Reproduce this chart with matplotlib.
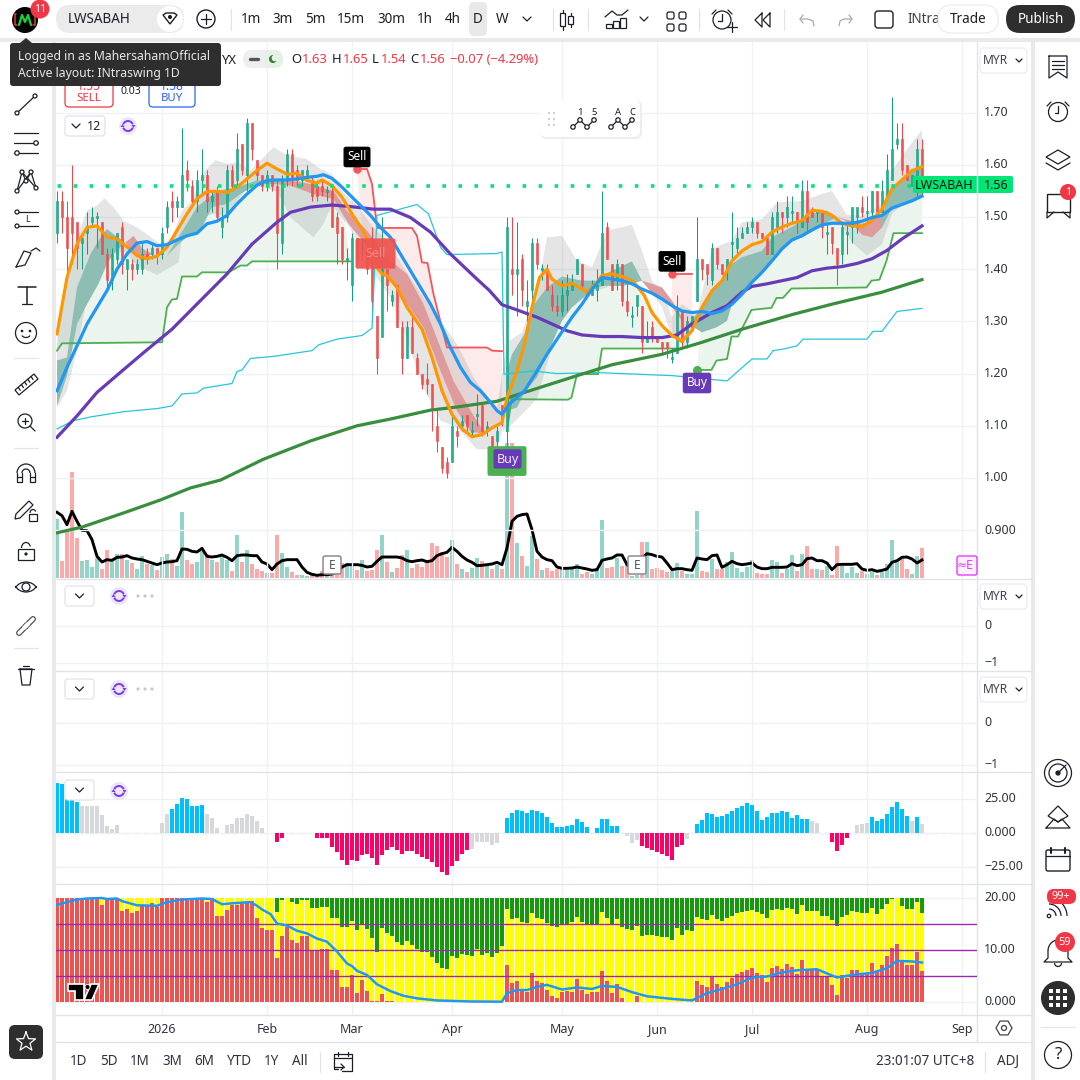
import numpy as np
import matplotlib
matplotlib.use("Agg")
import matplotlib.pyplot as plt
from matplotlib.patches import Rectangle, FancyBboxPatch, Circle, Polygon, Arc
from matplotlib.transforms import ScaledTranslation

plt.rcParams['font.family'] = ['Noto Sans', 'DejaVu Sans']

# ---------- DATA (prices in MYR) ----------
opens = [1.47,1.53,1.50,1.50,1.49,1.45,1.47,1.49,1.50,1.49,
 1.43,1.38,1.42,1.48,1.40,1.41,1.40,1.40,1.43,1.43,
 1.44,1.43,1.48,1.53,1.52,1.52,1.59,1.56,1.53,1.57,
 1.58,1.53,1.55,1.48,1.50,1.59,1.57,1.64,1.58,1.68,
 1.61,1.58,1.56,1.58,1.56,1.45,1.57,1.62,1.59,1.57,
 1.58,1.57,1.56,1.56,1.55,1.55,1.50,1.48,1.42,1.37,
 1.46,1.44,1.44,1.46,1.31,1.27,1.40,1.34,1.37,1.29,
 1.23,1.29,1.23,1.20,1.19,1.18,1.10,1.06,1.03,1.03,
 1.09,1.10,1.12,1.09,1.12,1.14,1.09,1.08,1.07,1.14,
 1.09,1.40,1.39,1.42,1.33,1.36,1.45,1.40,1.40,1.35,
 1.33,1.32,1.35,1.36,1.39,1.41,1.36,1.35,1.36,1.37,
 1.48,1.41,1.38,1.41,1.34,1.31,1.33,1.33,1.26,1.29,
 1.27,1.26,1.26,1.23,1.24,1.32,1.26,1.29,1.34,1.42,
 1.41,1.38,1.44,1.41,1.40,1.45,1.44,1.46,1.47,1.48,
 1.49,1.47,1.46,1.43,1.48,1.51,1.50,1.51,1.51,1.48,
 1.55,1.51,1.51,1.51,1.47,1.48,1.44,1.43,1.47,1.48,
 1.50,1.52,1.51,1.51,1.55,1.51,1.54,1.57,1.64,1.65,
 1.60,1.56,1.56,1.63]
highs = [1.55,1.55,1.53,1.60,1.49,1.47,1.51,1.52,1.51,1.49,
 1.44,1.44,1.47,1.49,1.42,1.42,1.42,1.45,1.44,1.45,
 1.44,1.48,1.53,1.55,1.54,1.67,1.61,1.57,1.59,1.63,
 1.59,1.55,1.56,1.52,1.60,1.60,1.66,1.64,1.69,1.68,
 1.61,1.58,1.59,1.58,1.57,1.58,1.63,1.63,1.60,1.59,
 1.60,1.58,1.57,1.57,1.56,1.56,1.51,1.48,1.44,1.47,
 1.46,1.46,1.45,1.48,1.31,1.50,1.40,1.36,1.37,1.30,
 1.30,1.31,1.24,1.20,1.22,1.18,1.13,1.06,1.04,1.12,
 1.10,1.12,1.12,1.11,1.16,1.14,1.11,1.08,1.10,1.14,
 1.50,1.50,1.49,1.43,1.38,1.46,1.46,1.41,1.41,1.37,
 1.35,1.38,1.39,1.39,1.42,1.41,1.36,1.38,1.40,1.55,
 1.49,1.41,1.42,1.41,1.38,1.33,1.35,1.33,1.30,1.30,
 1.27,1.26,1.26,1.25,1.35,1.32,1.31,1.31,1.50,1.42,
 1.41,1.45,1.44,1.41,1.42,1.51,1.48,1.48,1.49,1.50,
 1.49,1.47,1.46,1.51,1.53,1.51,1.54,1.54,1.51,1.57,
 1.57,1.52,1.51,1.51,1.49,1.48,1.44,1.49,1.49,1.52,
 1.52,1.54,1.54,1.55,1.55,1.57,1.62,1.73,1.68,1.68,
 1.60,1.58,1.65,1.65]
lows = [1.45,1.47,1.38,1.41,1.40,1.40,1.43,1.48,1.44,1.43,
 1.36,1.36,1.41,1.39,1.36,1.38,1.39,1.39,1.41,1.42,
 1.41,1.42,1.47,1.49,1.50,1.52,1.55,1.52,1.51,1.54,
 1.51,1.51,1.49,1.46,1.49,1.55,1.56,1.58,1.55,1.61,
 1.57,1.55,1.55,1.55,1.40,1.43,1.56,1.56,1.56,1.56,
 1.57,1.53,1.53,1.54,1.53,1.48,1.41,1.41,1.38,1.34,
 1.41,1.42,1.39,1.31,1.20,1.27,1.32,1.33,1.29,1.20,
 1.23,1.24,1.20,1.17,1.16,1.09,1.05,1.01,1.00,1.03,
 1.06,1.09,1.09,1.08,1.10,1.08,1.08,1.05,1.06,1.10,
 1.05,1.35,1.31,1.33,1.30,1.34,1.40,1.38,1.36,1.32,
 1.31,1.31,1.32,1.36,1.39,1.36,1.35,1.35,1.34,1.37,
 1.42,1.36,1.36,1.33,1.31,1.29,1.31,1.24,1.26,1.26,
 1.26,1.24,1.23,1.22,1.24,1.25,1.25,1.29,1.34,1.38,
 1.37,1.37,1.40,1.39,1.38,1.42,1.43,1.46,1.47,1.47,
 1.46,1.46,1.43,1.43,1.47,1.47,1.48,1.49,1.47,1.48,
 1.47,1.50,1.49,1.46,1.43,1.43,1.37,1.41,1.43,1.45,
 1.47,1.50,1.49,1.50,1.50,1.51,1.54,1.57,1.63,1.58,
 1.57,1.56,1.54,1.54]
closes = [1.53,1.50,1.44,1.47,1.44,1.46,1.48,1.50,1.50,1.43,
 1.38,1.43,1.47,1.41,1.42,1.40,1.41,1.43,1.42,1.44,
 1.43,1.47,1.52,1.52,1.53,1.58,1.57,1.53,1.57,1.58,
 1.53,1.54,1.50,1.50,1.59,1.56,1.63,1.59,1.68,1.63,
 1.58,1.56,1.58,1.56,1.47,1.57,1.62,1.57,1.57,1.59,
 1.59,1.54,1.54,1.55,1.55,1.48,1.47,1.42,1.42,1.46,
 1.42,1.44,1.40,1.34,1.23,1.40,1.37,1.35,1.29,1.23,
 1.29,1.24,1.20,1.18,1.18,1.13,1.07,1.02,1.01,1.10,
 1.08,1.11,1.10,1.09,1.12,1.09,1.10,1.06,1.09,1.11,
 1.48,1.39,1.40,1.36,1.34,1.45,1.41,1.40,1.36,1.33,
 1.32,1.35,1.36,1.37,1.42,1.37,1.35,1.37,1.37,1.47,
 1.42,1.36,1.41,1.34,1.32,1.31,1.35,1.26,1.27,1.27,
 1.26,1.25,1.25,1.23,1.32,1.26,1.30,1.31,1.42,1.40,
 1.39,1.44,1.41,1.39,1.42,1.45,1.46,1.47,1.48,1.49,
 1.47,1.46,1.43,1.50,1.51,1.50,1.52,1.51,1.49,1.55,
 1.49,1.50,1.51,1.48,1.47,1.45,1.41,1.48,1.47,1.52,
 1.52,1.51,1.51,1.55,1.51,1.55,1.59,1.63,1.65,1.59,
 1.57,1.58,1.63,1.56]
volume = [177,52,145,318,120,50,55,33,60,28,
 85,55,73,73,55,45,28,67,43,40,
 25,63,73,57,37,198,55,43,49,80,
 73,55,49,65,55,22,130,49,85,43,
 28,22,16,16,130,76,34,19,10,10,
 7,10,10,22,15,22,35,45,45,45,
 25,55,20,25,85,130,49,19,31,70,
 85,31,43,34,49,106,97,79,64,115,
 43,28,19,31,61,52,37,28,40,28,
 405,405,106,67,37,127,58,25,31,22,
 28,28,25,28,43,13,19,13,31,175,
 31,34,61,37,40,7,10,109,109,28,
 31,25,19,22,46,22,13,13,202,22,
 19,58,28,28,49,79,31,19,34,55,
 16,13,13,55,49,16,28,70,22,73,
 97,28,28,25,37,10,97,37,16,34,
 16,22,13,19,10,19,43,115,52,58,
 28,13,67,91]
volume_line = [197,187,160,200,170,143,142,115,65,48,
 55,53,62,63,67,60,57,55,50,45,
 40,45,48,49,52,87,86,80,78,89,
 65,63,65,69,62,52,67,69,69,67,
 67,48,42,25,42,52,55,55,55,33,
 17,11,8,10,10,12,18,33,40,40,
 40,38,33,35,50,63,63,63,63,60,
 52,49,52,54,49,52,67,73,77,92,
 80,65,54,47,37,38,40,42,47,40,
 90,170,185,190,192,145,80,63,55,52,
 33,29,29,30,33,30,27,23,25,53,
 57,60,69,69,40,30,40,60,73,70,
 65,63,45,25,28,28,25,23,60,57,
 55,67,69,32,40,50,43,40,42,45,
 33,28,28,32,32,32,33,43,37,40,
 58,60,52,52,45,25,40,41,41,41,
 43,27,23,25,20,23,27,47,52,62,
 63,57,45,54]

orange_i = [0,2,4,6,8,10,12,14,16,18,20,22,24,26,28,30,32,34,36,38,40,42,44,46,48,50,52,53,55,57,59,61,62,63,65,66,68,70,73,75,77,79,81,83,85,87,89,90,92,93.5,95,96.5,98,99,101,103,105,106,108,109,111,113,115,116,117.5,119,121,123,125,127,129,131,133,135,137,139,141,143,145,147,149,151,153,155,157,159,161,163,165,167,169,171,173]
orange_p = [1.276,1.384,1.448,1.48,1.483,1.462,1.458,1.443,1.426,1.42,1.425,1.442,1.474,1.506,1.535,1.549,1.549,1.547,1.557,1.573,1.589,1.603,1.592,1.582,1.584,1.57,1.565,1.571,1.56,1.538,1.506,1.477,1.458,1.416,1.391,1.388,1.365,1.327,1.285,1.231,1.167,1.122,1.094,1.079,1.083,1.096,1.106,1.154,1.205,1.257,1.327,1.384,1.40,1.381,1.368,1.373,1.362,1.356,1.375,1.388,1.391,1.386,1.378,1.368,1.349,1.317,1.292,1.273,1.262,1.282,1.327,1.359,1.378,1.416,1.435,1.447,1.453,1.471,1.481,1.488,1.493,1.513,1.511,1.503,1.488,1.483,1.482,1.493,1.515,1.554,1.571,1.589,1.596]
blue_i = [0,2,4,6,8,10,12,14,16,18,20,22,24,26,28,30,32,34,36,38,40,42,44,46,48,50,52,53.3,55,56.7,58.7,60.7,62.7,64.7,66.7,68.7,70.7,72.7,74.7,76.7,78.7,80.7,82.7,84.7,86.7,88,89,90.5,93.5,96,98,100.5,103,105,107,109,111,113,115,117,119,121,123,125,127,129,131,133,135,137,139,141,143,145,147,149,151,153,155,157,159,161,163,165,167,169,171,173]
blue_p = [1.167,1.212,1.253,1.295,1.327,1.359,1.40,1.429,1.45,1.453,1.445,1.447,1.456,1.464,1.469,1.487,1.492,1.503,1.525,1.544,1.561,1.57,1.571,1.571,1.573,1.576,1.578,1.581,1.574,1.56,1.541,1.522,1.503,1.48,1.461,1.429,1.397,1.365,1.333,1.295,1.25,1.212,1.183,1.167,1.145,1.129,1.122,1.142,1.167,1.205,1.237,1.273,1.308,1.333,1.362,1.384,1.381,1.378,1.372,1.362,1.354,1.343,1.33,1.32,1.317,1.319,1.315,1.32,1.333,1.352,1.375,1.394,1.416,1.439,1.456,1.464,1.475,1.485,1.488,1.488,1.488,1.492,1.499,1.503,1.517,1.524,1.531,1.54]
purple_i = [0,4,8,13,17.3,23,28.7,34,39,44,46.7,50.7,55,58.7,63.3,66.7,70.7,74.7,78.7,84,86.5,89,92,96,99,102,105,109,113,117,121,124,127,131,134,137,139,142,145,148,151,154,157,160,163,166,169,173]
purple_p = [1.078,1.119,1.164,1.205,1.24,1.285,1.34,1.391,1.448,1.49,1.509,1.519,1.523,1.52,1.515,1.515,1.499,1.471,1.429,1.381,1.359,1.332,1.322,1.308,1.295,1.282,1.274,1.271,1.271,1.269,1.269,1.274,1.295,1.317,1.33,1.356,1.367,1.372,1.378,1.384,1.397,1.402,1.405,1.411,1.42,1.436,1.458,1.483]
dgreen_i = [0,5,13.3,20.7,26.7,32.7,41.3,50.7,60,66.7,74.7,80,88,93.5,104,111,121,129,137,147,155,165,173]
dgreen_p = [0.895,0.906,0.933,0.958,0.981,0.996,1.036,1.071,1.10,1.113,1.13,1.136,1.147,1.164,1.196,1.217,1.237,1.26,1.285,1.313,1.333,1.356,1.38]
cyan_i = [0,3.3,6.7,13.3,20,23,25,28,29.3,35,36,37,38.7,43.3,51,52.3,56,61,63,64,72,74.3,76.7,78,88,89,89.4,95.2,100,108,123.2,134,139,142,143.2,145.2,148,149.2,162,163.2,165,168,173]
cyan_p = [1.094,1.11,1.117,1.127,1.133,1.138,1.161,1.163,1.172,1.181,1.204,1.207,1.229,1.233,1.244,1.255,1.266,1.273,1.287,1.503,1.524,1.506,1.442,1.428,1.43,1.433,1.199,1.205,1.20,1.202,1.196,1.186,1.228,1.228,1.244,1.247,1.253,1.266,1.266,1.281,1.281,1.319,1.325]
stepA_i = [0,1,21,22,23,24,25,28,29,34.3,36.7,38,39,58.7]
stepA_p = [1.244,1.258,1.26,1.327,1.342,1.343,1.386,1.386,1.394,1.394,1.407,1.407,1.415,1.415]
stepB_i = [90,90.9,102.2,102.9,104,108.2,109,124]
stepB_p = [1.09,1.151,1.15,1.154,1.199,1.199,1.248,1.248]
stepC_i = [128,130.9,131.9,134,134.9,136.2,138.9,142.9,143.9,145.2,146.9,161.9,162.9,164.5,165.9,167.3,173]
stepC_p = [1.207,1.207,1.225,1.228,1.271,1.271,1.322,1.326,1.345,1.345,1.363,1.365,1.378,1.38,1.416,1.469,1.469]
redA_i = [60,62,63,63.7,64,71,72,73,74.1,75.3,78,86,87,89]
redA_p = [1.592,1.592,1.563,1.506,1.479,1.479,1.464,1.413,1.412,1.352,1.25,1.25,1.244,1.243]
redB_i = [123,127]
redB_p = [1.391,1.391]
cloud_up_i = [0,2,4,6,8,9.5,11.3,13.3,16,18,21,23,25,27,29.3,31.7,34,36.3,38.7,40.7,43.3,46,50,52.7,55,57.3,60,63.3,66,69.3,73.3,76.7,80,83.3,86.7,88,90,93,96,98,101,104,107,110,115,117,119,121,123,125,128,131,135,137,141,144,149,152,155,158,161,165,167,170,173]
cloud_up_p = [1.257,1.391,1.461,1.512,1.522,1.536,1.519,1.493,1.48,1.467,1.445,1.461,1.512,1.531,1.586,1.609,1.602,1.605,1.589,1.608,1.634,1.618,1.611,1.592,1.582,1.547,1.522,1.48,1.455,1.404,1.346,1.301,1.257,1.193,1.148,1.135,1.26,1.279,1.359,1.461,1.464,1.416,1.404,1.474,1.485,1.435,1.378,1.359,1.308,1.333,1.314,1.439,1.455,1.49,1.496,1.528,1.531,1.541,1.55,1.504,1.503,1.525,1.589,1.63,1.667]
cloud_lo_i = [0,2,4,6,7.3,8.3,10,13.3,16,20,22,24.3,25,28.7,31.3,34,38.3,41.3,44,46.7,51.3,53.3,55,58,61.3,64,66.7,70,73.3,76.7,80,84,88,89,90,93,96,98,101,104,108,110,114,117,119,121,123,126,128,131,134,135,139,143,147,151,154,157,159,162,165,167,170,173]
cloud_lo_p = [1.135,1.167,1.244,1.346,1.365,1.378,1.423,1.435,1.407,1.389,1.40,1.413,1.461,1.499,1.506,1.499,1.563,1.557,1.55,1.499,1.461,1.487,1.522,1.487,1.435,1.384,1.346,1.263,1.173,1.11,1.097,1.055,1.055,1.09,1.094,1.122,1.151,1.218,1.32,1.359,1.359,1.365,1.397,1.375,1.356,1.327,1.269,1.25,1.308,1.295,1.301,1.397,1.416,1.442,1.461,1.477,1.487,1.483,1.451,1.426,1.448,1.506,1.531,1.544]
# trend ribbon segments: teal while rising, red while falling
teal_segments = [
 ([0,2,4,6.7,8.7,10,11.3,13.7],[1.225,1.231,1.365,1.429,1.461,1.477,1.467,1.451],
  [0,2,4,6,8.3,10,11.3,13.7],[1.138,1.196,1.295,1.333,1.372,1.41,1.429,1.451]),
 ([22,24.3,28,32,36,40,44],[1.426,1.461,1.519,1.55,1.557,1.57,1.57],
  [22,24.3,26.7,28.7,31,34,36.7,40,44],[1.426,1.448,1.467,1.474,1.519,1.525,1.544,1.563,1.563]),
 ([90,91,93.5,95,98,101,105,108,109,115,117],[1.205,1.237,1.276,1.327,1.365,1.386,1.378,1.378,1.388,1.415,1.378],
  [90,92,93.5,96,98,101,103,107,109,113,115,117],[1.129,1.135,1.164,1.193,1.237,1.301,1.327,1.359,1.368,1.368,1.372,1.378]),
 ([126.3,129,131,133,135,137,141,143,145,147,149,151,154,156],[1.295,1.327,1.359,1.378,1.41,1.423,1.435,1.461,1.471,1.481,1.493,1.506,1.512,1.50],
  [126.3,129,132,134,135,137,139,141,143,145,147,149,151,153,156],[1.295,1.279,1.289,1.301,1.333,1.352,1.375,1.394,1.416,1.439,1.456,1.464,1.475,1.485,1.50]),
 ([165,167,169,171,173],[1.503,1.554,1.571,1.589,1.596],
  [165,167,169,171,173],[1.48,1.517,1.524,1.531,1.54]),
]
red_segments = [
 ([13.7,15.3,17,19],[1.451,1.464,1.44,1.43],[13.7,15.3,17,19],[1.451,1.432,1.415,1.43]),
 ([44,45.3,50.7,55.3,58,62,66.7,70,73.3,76.7,79.3,82.7,85.3],[1.57,1.573,1.563,1.55,1.512,1.474,1.416,1.391,1.333,1.25,1.186,1.129,1.09],
  [44,46.7,51.3,55.3,58.3,62,64,66.7,70,73.3,76.7,80,82.7,85.3],[1.563,1.56,1.544,1.534,1.487,1.445,1.397,1.378,1.333,1.289,1.205,1.129,1.09,1.084]),
 ([117,119,121,123,125],[1.378,1.372,1.365,1.34,1.308],[117,119,121,123,125],[1.378,1.354,1.343,1.327,1.301]),
 ([156,159,161,163,165],[1.50,1.492,1.487,1.493,1.503],[156,159,161,163,165],[1.50,1.487,1.466,1.461,1.48]),
]
histogram = [36.5,35.75,29.5,27.5,22.75,20,19.5,20,20,13,
 5,3,5.75,0,0,0,0,0,0,0,
 0,7,14,17.75,21.5,26,25,20,20,20.75,
 14,10.75,4,0,5.75,6.5,11,10.75,14,12.5,
 8.75,4,0,0,-6.75,-4,0,0,0,0,
 0,0,-4,-4,-4,-10,-13.75,-19.75,-23.5,-19.75,
 -20.5,-16,-15.25,-18.25,-23.5,-16,-12.25,-10,-12.25,-15.25,
 -13,-13,-15.25,-17.5,-19,-21.25,-25,-28.75,-31,-24.25,
 -20.5,-15.25,-12.25,-11.5,-6.25,-6.25,-6.25,-8.5,-7,0,
 11,14.75,17,16.25,14.75,17,16.25,14.75,11.75,7.25,
 4.25,4.25,5,5.75,10.25,8,4.25,0,3.5,10.25,
 10.25,5,5,0,-2.5,-7,-5.5,-9.25,-10.75,-12.25,
 -13.75,-15.25,-16.75,-19.75,-10,-8.5,-4.75,0,6.5,9.5,
 14.75,14,11.75,12.5,14,16.25,18.5,20,22.25,20.75,
 16.25,9.5,11.75,14.75,14.75,16.25,15.5,11,13.25,10.25,
 10.25,8.75,7.25,0,0,-6.25,-13,-8.5,-4,0,
 5.75,6.5,7.25,11.75,8.75,10.25,14,19.25,23,17.75,
 12.5,8.75,11.75,6.5]
hist_state = 'b'*5+'g'*18+'b'*7+'g'*14+'p'*39+'g'*7+'b'*24+'g'*3+'p'*9+'g'*2+'b'*23+'g'*4+'p'*4+'g'*4+'b'*8+'g'+'b'+'g'
stack_red = [20,20,20,20,20,20,20,20,20,18.65,
 20,20,20,17.5,17.8,17.1,17.5,18.65,18.65,19,
 18.3,20,20,20,20,20,20,20,20,20,
 19.3,20,16.5,16.5,17.7,18.65,18.65,19,19,19.4,
 16.1,14.2,13.8,13.8,8.5,12.7,14.5,11.9,11.3,12.6,
 12.6,9.8,9.8,10.1,10.1,6.2,6.2,2.9,2.9,5.1,
 1.7,4.2,2.1,0.1,0.1,1.5,0.2,0.1,0.05,0.05,
 0.05,0.05,0.05,0.05,0.05,0.05,0.05,0.05,0.05,0.05,
 0.05,0.05,0.05,0.05,0.05,0.05,0.05,0.05,0.05,0.05,
 7.1,3.7,4,2.1,1.9,5.6,4,3.7,2.3,1.2,
 0.8,1.9,2.1,2.0,4.4,2.3,1.5,1.9,1.9,6,
 4,1.7,3.5,0.8,0.05,0.05,1.2,0.05,0.05,0.05,
 0.05,0.05,0.05,0.05,0.05,0.05,0.05,0.05,4,3.3,
 2.9,4.8,3.5,2.9,3.8,4.6,5.4,5.8,6.2,6.5,
 5.6,5.2,3.8,6.5,6.9,6.3,7.3,6.7,5.4,8.1,
 6.3,6.3,6.2,4.8,4.8,3.3,1.3,5.2,4.6,6.2,
 6.2,5.4,5.5,7.5,6,7.1,8.8,10.4,11.2,7.7,
 7.1,7.1,9.6,6]
stack_yellow_top = [20]*44 + [17.3,19.6,20,19.2,18.8,19.6,
 19.6,18.1,18.1,18.3,18.3,16.2,16.2,14.4,14.4,15.6,
 13.8,15,14,12.3,9.7,14.2,13.3,12.7,11.5,11,
 11.7,11,10.2,9.6,9.7,8.7,7.5,6.5,6.3,8.8,
 8.5,9.2,9,8.8,10.2,9,9.4,8.7,9.5,10.8,
 17.9,16,16.2,15.4,15.2,17.1,16.1,16,15.2,14.6,
 14.4,15,15,15.4,16.3,15.4,14.8,15,15,17.3,
 16.2,14.8,16,14.4,14,13.8,14.6,12.7,12.9,12.9,
 12.7,12.5,12.5,11.9,14.2,12.9,13.8,13.7,16.3,16,
 15.8,16.7,16,15.6,16.2,16.5,17.1,17.3,17.5,17.7,
 17.3,16.9,16.2,17.7,17.9,17.7,18.1,17.9,16.9,18.7,
 17.5,17.5,17.5,16.5,16.5,15.8,14.6,16.3,16.7,17.5,
 17.3,17.1,17.1,18.1,16.9,17.9,18.8,19.8,20,18.5,
 17.9,17.9,19.2,17.1]
stack_total = 20
stack_line_i = [0,2,4,6,9,10,12,13,16,20,22,25,29,31,33,35.3,38.7,40,41,42.7,44,46,48,50,52,54,56,58,59,60,62,64,66.7,69.3,72,76,82.7,89,90,92,94,96,98,101,104,107,109,112,115,118,123,127,130,133,136,139,142,145,148,152,156,159,163,166,168,171,173]
stack_line_v = [18.65,19.2,19.7,19.9,20,19.8,19.9,19.4,18.6,18.5,19.2,19.7,19.9,19.8,18.8,19,19.2,18.5,17.8,16.9,15.1,14.7,13.7,13.2,12.2,11.6,9.7,7.4,6.9,6,5.2,3.4,2.1,1.2,0.7,0.3,0.1,0.06,1.7,2.3,2.3,2.9,3.3,2.4,2.8,2.5,3.1,2.9,1.9,1.1,0.6,0.3,1.7,2.5,3.4,4.7,4.9,5.7,6.1,6.3,4.7,5.2,5.6,6.5,7.9,7.8,7.6]
stack_levels = [5, 10, 15]
month_ticks = [21, 42, 59, 79, 101, 120, 139, 162, 181]
month_labels = ['2026', 'Feb', 'Mar', 'Apr', 'May', 'Jun', 'Jul', 'Aug', 'Sep']
price_ticks = [0.90, 1.00, 1.10, 1.20, 1.30, 1.40, 1.50, 1.60, 1.70]
price_labels = ['0.900', '1.00', '1.10', '1.20', '1.30', '1.40', '1.50', '1.60', '1.70']
last_price = 1.56
earnings_bars = [55, 116]

assert all(len(a) == 174 for a in (opens, highs, lows, closes, volume, volume_line, histogram, stack_red, stack_yellow_top))
assert len(hist_state) == 174

W = H = 1080
fig = plt.figure(figsize=(10.8, 10.8), dpi=100, facecolor='white')
def pane(x0, y0, x1, y1, z=5):
    return fig.add_axes([x0/W, 1-y1/H, (x1-x0)/W, (y1-y0)/H], zorder=z)

GRID = '#eff1f5'; TXT = '#2f3340'
idx = np.arange(len(closes))
XLIM = (-0.2, 184)
FS = 12.5*0.72
LIFT = ScaledTranslation(0, 1.2/72, fig.dpi_scale_trans)

def style(ax, yt, yl):
    ax.set_xlim(*XLIM)
    ax.set_xticks(month_ticks); ax.set_xticklabels([])
    ax.set_yticks(yt); ax.set_yticklabels(yl, fontsize=FS, color=TXT)
    ax.yaxis.tick_right()
    ax.tick_params(length=0, pad=5)
    ax.grid(True, color=GRID, lw=1)
    ax.set_axisbelow(True)
    for s in ax.spines.values():
        s.set_visible(False)
    ax.patch.set_alpha(0)
    for lbl in ax.get_yticklabels():
        lbl.set_transform(lbl.get_transform() + LIFT)

# ---------- main pane ----------
vol_ax = pane(56, 42, 977, 578, 4)
vol_ax.set_xlim(*XLIM); vol_ax.set_ylim(0, 1608); vol_ax.axis('off')
cl = np.array(closes); op = np.array(opens)
up = cl >= op
vol_ax.bar(idx, volume, width=0.75, color=np.where(up, '#93d4c9', '#fca9a9'), zorder=2)
vol_ax.plot(idx, volume_line, color='black', lw=2.1, zorder=3)

ax = pane(56, 42, 977, 578, 5)
style(ax, price_ticks, price_labels)
ax.set_ylim(1+(478-578)/522, 1+(478-42)/522)
for lbl in ax.get_yticklabels():
    if lbl.get_text() in ('1.50', '1.00'):
        lbl.set_fontweight('bold')

def band(ui, up_, li, lo_, **kw):
    ax.fill(np.r_[ui, np.array(li)[::-1]], np.r_[up_, np.array(lo_)[::-1]], lw=0, **kw)

oi, op_k = np.array(orange_i), np.array(orange_p)
def oslice(a, b):
    m = (oi >= a) & (oi <= b)
    return oi[m], op_k[m]
for si, sp in ((stepA_i, stepA_p), (stepB_i, stepB_p), (stepC_i, stepC_p)):
    u_i, u_p = oslice(si[0], si[-1])
    band(u_i, u_p, si, sp, color='#ebf5ee', zorder=1)
    ax.plot(si, sp, color='#4caf50', lw=1.3, zorder=3)
for si, sp in ((redA_i, redA_p), (redB_i, redB_p)):
    l_i, l_p = oslice(si[0], si[-1])
    band(si, sp, l_i, l_p, color='#fdeaea', zorder=1)
    ax.plot(si, sp, color='#f5555a', lw=1.3, zorder=3)
band(cloud_up_i, cloud_up_p, cloud_lo_i, cloud_lo_p, color='#808080', alpha=0.2, zorder=2)
for u_i, u_p, l_i, l_p in teal_segments:
    band(u_i, u_p, l_i, l_p, color='#8dbdb3', zorder=2.5)
for u_i, u_p, l_i, l_p in red_segments:
    band(u_i, u_p, l_i, l_p, color='#dd9b9b', zorder=2.5)

hi = np.array(highs); lo = np.array(lows)
body_c = np.where(up, '#1cb48c', '#ef5350')
edge_c = np.where(up, '#169b85', '#f0464b')
ax.vlines(idx, lo, hi, colors=edge_c, lw=0.75, zorder=4)
ax.bar(idx, np.maximum(np.abs(cl-op), 0.004), bottom=np.minimum(cl, op)-np.where(cl == op, 0.002, 0),
       width=0.56, color=body_c, edgecolor=edge_c, linewidth=0.4, zorder=4.2)

ax.plot(cyan_i, cyan_p, color='#26c6da', lw=0.9, zorder=4.5)
ax.plot(dgreen_i, dgreen_p, color='#388e3c', lw=2.3, zorder=5)
ax.plot(purple_i, purple_p, color='#673ab7', lw=2.3, zorder=5)
ax.plot(orange_i, orange_p, color='#ff9800', lw=2.3, zorder=5.2)
ax.plot(blue_i, blue_p, color='#2196f3', lw=2.3, zorder=5.4)
ax.axhline(last_price, color='#00e676', lw=2.6, linestyle=(4, (1, 3.44)), zorder=6)

# signal labels, anchored on their bars and prices
ax.add_patch(FancyBboxPatch((59.8, 1.402), 7.8, 0.056, boxstyle='round,pad=0.1,rounding_size=0.4', mutation_aspect=0.01,
                            fc='#ef5350', ec='none', alpha=0.93, zorder=7))
ax.text(63.7, 1.431, 'Sell', color='#f08a8a', ha='center', va='center', fontsize=FS, zorder=7.1)
ax.add_patch(FancyBboxPatch((86.2, 1.005), 7.6, 0.055, boxstyle='round,pad=0.1,rounding_size=0.4', mutation_aspect=0.01,
                            fc='#4caf50', ec='none', zorder=7))
ax.add_patch(FancyBboxPatch((87.4, 1.019), 5.4, 0.035, boxstyle='round,pad=0.1,rounding_size=0.4', mutation_aspect=0.01,
                            fc='#673ab7', ec='none', zorder=7.1))
ax.text(90.1, 1.036, 'Buy', color='white', ha='center', va='center', fontsize=FS, alpha=0.9, zorder=7.2)
ax.scatter([60, 123], [1.592, 1.391], s=26, color='#f5555a', zorder=7)
ax.scatter([128], [1.207], s=30, color='#4caf50', zorder=7)
for xi, yp, s, c in ((60, 1.615, 'Sell', 'black'), (123, 1.415, 'Sell', 'black'), (128, 1.182, 'Buy', '#673ab7')):
    ax.text(xi, yp, s, color='white', ha='center', va='center', fontsize=FS*0.95, zorder=8,
            bbox=dict(boxstyle='round,pad=0.32,rounding_size=0.2', fc=c, ec='none'))

# ---------- empty panes ----------
a2 = pane(56, 580, 977, 671); style(a2, [0, -1], ['0', '\u22121'])
a2.set_ylim(-(671-626)/37, (626-580)/37)
a3 = pane(56, 672, 977, 772); style(a3, [0, -1], ['0', '\u22121'])
a3.set_ylim(-(772-723)/42, (723-672)/42)

# ---------- histogram pane ----------
a4 = pane(56, 773, 977, 884)
style(a4, [25, 0, -25], ['25.00', '0.000', '\u221225.00'])
a4.set_ylim(-(884-833)/1.36, (833-773)/1.36)
a4.axhline(0, color='#e6e7eb', lw=1, ls=(0, (4, 3)), zorder=0)
hcol = {'b': '#00bfff', 'g': '#d6d8dc', 'p': '#ff0066'}
a4.bar(idx, histogram, width=0.8, color=[hcol[s] for s in hist_state], zorder=2)

# ---------- stacked pane ----------
a5 = pane(56, 885, 977, 1015)
style(a5, [0, 10, 20], ['0.000', '10.00', '20.00'])
a5.set_ylim(-(1015-1002)/5.2, (1002-885)/5.2)
a5.grid(False, axis='y')
for v in (0, 20):
    a5.axhline(v, color=GRID, lw=1, zorder=0)
a5.bar(idx, np.full(len(idx), stack_total), width=0.82, color='#169a0b', zorder=2)
a5.bar(idx, stack_yellow_top, width=0.82, color='#ffff00', zorder=2.1)
a5.bar(idx, stack_red, width=0.82, color='#ef5350', zorder=2.2)
for v in stack_levels:
    a5.axhline(v, color='#9c27b0', lw=1, zorder=3)
a5.plot(stack_line_i, stack_line_v, color='#2196f3', lw=1.8, zorder=4)
a5.set_xticklabels(month_labels, fontsize=FS, color=TXT)
a5.tick_params(axis='x', pad=6)
a5.get_xticklabels()[0].set_fontweight('bold')

# ---------- window chrome (toolbars, buttons, legends) ----------
bg = fig.add_axes([0, 0, 1, 1], zorder=0); bg.set_xlim(0, W); bg.set_ylim(H, 0); bg.axis('off')
bg.add_patch(Rectangle((0, 38), W, 4, fc='#e9e9e9', ec='none'))
bg.add_patch(Rectangle((52, 38), 4, H, fc='#e9e9e9', ec='none'))
bg.add_patch(Rectangle((1031, 38), 4, H, fc='#e9e9e9', ec='none'))
for y in (579, 671, 772, 884, 1015, 1042):
    bg.plot([56, 1031], [y, y], color='#e0e3eb', lw=1)
bg.plot([977, 977], [42, 1042], color='#e0e3eb', lw=1)

fg = fig.add_axes([0, 0, 1, 1], zorder=20); fg.set_xlim(0, W); fg.set_ylim(H, 0); fg.axis('off'); fg.patch.set_alpha(0)
INK = '#1c1f28'
def t(x, y, s, px=13, c=INK, ha='center', w='normal', z=30, **k):
    return fg.text(x, y+1.3, s, fontsize=px*0.72, color=c, ha=ha, va='center', fontweight=w, zorder=z, **k)
def ln(xs, ys, c=INK, lw=0.9, z=28):
    fg.plot(xs, ys, color=c, lw=lw, solid_capstyle='round', zorder=z)
def circ(x, y, r, fc='none', ec=INK, lw=0.9, z=28):
    fg.add_patch(Circle((x, y), r, fc=fc, ec=ec, lw=lw, zorder=z))
def rbox(x0, y0, x1, y1, r=4, fc='white', ec='none', lw=0.9, z=25, **k):
    fg.add_patch(FancyBboxPatch((x0+r, y0+r), x1-x0-2*r, y1-y0-2*r, boxstyle=f'round,pad={r},rounding_size={r}',
                                fc=fc, ec=ec, lw=lw, zorder=z, **k))

# top bar
circ(25, 20, 13, fc='black', ec='none')
ln([19, 22, 25, 28, 31], [25, 15, 22, 15, 25], c='#19d13a', lw=1.6, z=29)
ln([16, 15, 15, 17], [14, 14, 25, 25], c='#e53935', lw=1.1, z=29)
ln([33, 35, 35, 33], [14, 14, 25, 25], c='#e53935', lw=1.1, z=29)
circ(40, 9, 9.5, fc='#f23645', ec='none', z=29); t(40, 8, '11', 10.5, 'white')
rbox(56, 5, 184, 33, 14, fc='#ebebeb')
t(68, 18, 'LWSABAH', 13.5, w='bold', ha='left')
circ(170, 19, 13, fc='white', ec='none', z=26)
fg.add_patch(Polygon([(163, 15), (166, 13), (174, 13), (177, 15), (170, 24)], closed=True, fc='white', ec=INK, lw=1, zorder=28))
circ(170, 17, 1.4, fc=INK)
circ(206, 19, 9, lw=1); ln([201, 211], [19, 19]); ln([206, 206], [14, 24])
ln([231, 231], [9, 30], c='#e0e3eb')
rbox(469, 2, 487, 36, 5, fc='#e9e9e9')
for x, s in ((251, '1m'), (283, '3m'), (315, '5m'), (351, '15m'), (391, '30m'), (425, '1h'), (453, '4h'), (478, 'D'), (502, 'W')):
    t(x, 18, s, 13.5)
ln([523, 527, 531], [17, 21, 17])
for x in (553, 588, 699, 784):
    ln([x, x], [9, 30], c='#e0e3eb')
# candles icon
ln([563, 563], [10, 30]); fg.add_patch(Rectangle((560, 13), 5, 13, fc='white', ec=INK, lw=0.9, zorder=28))
ln([571, 571], [13, 27]); fg.add_patch(Rectangle((568, 16), 5, 8, fc='white', ec=INK, lw=0.9, zorder=28))
# indicators icon
for x, y0 in ((606, 24), (613, 21), (620, 18)):
    fg.add_patch(Rectangle((x, y0), 6, 28-y0, fc='none', ec=INK, lw=0.9, zorder=28))
ln([605, 612, 617, 622, 628], [17, 11, 15, 15, 10])
ln([640, 644, 648], [17, 21, 17])
for x, y in ((667, 12), (679, 12), (667, 24), (679, 24)):
    rbox(x, y, x+7, y+7, 2, fc='none', ec=INK, z=28)
# alarm
circ(722, 20, 9); ln([722, 722, 718], [14, 21, 21]); ln([712, 716], [14, 10]); ln([732, 728], [14, 10])
ln([727, 737], [27, 27]); ln([732, 732], [22, 32])
# replay
ln([762, 755, 762, 762], [13, 20, 27, 13]); ln([770, 763, 770, 770], [13, 20, 27, 13])
# undo/redo
ln([800, 808, 813, 814], [19, 19, 21, 26], c='#a8abb2'); ln([803, 800, 803], [15, 19, 23], c='#a8abb2')
ln([852, 844, 840, 839], [19, 19, 21, 26], c='#a8abb2'); ln([849, 852, 849], [15, 19, 23], c='#a8abb2')
rbox(875, 11, 893, 28, 3, fc='white', ec=INK, lw=1)
t(908, 18, 'INtra', 13.5, ha='left', c='#3a3e4a')
rbox(938, 5, 998, 33, 14, fc='white', ec='#ececec', z=31)
t(968, 18, 'Trade', 13.5, z=32)
rbox(1006, 5, 1075, 33, 14, fc='#2e2e2e')
t(1041, 18, 'Publish', 13.5, 'white')

# tooltip + legend row
rbox(10, 43, 221, 86, 3, fc='#2e2e2e', z=40)
fg.add_patch(Polygon([(20, 43), (26, 38), (32, 43)], fc='#2e2e2e', ec='none', zorder=40))
t(18, 55, 'Logged in as MahersahamOfficial', 12.2, '#e8e8e8', ha='left', z=41)
t(18, 72, 'Active layout: INtraswing 1D', 12.2, '#e8e8e8', ha='left', z=41)
t(222, 59, 'YX', 13, ha='left')
rbox(243, 50, 283, 68, 9, fc='#eeeeee')
rbox(264, 50, 283, 68, 9, fc='#e4f2e4', z=26)
ln([250, 258], [59, 59], c='#555', lw=2.4)
circ(273, 59, 4, fc='#2e7d32', ec='none'); circ(275, 58, 3.4, fc='#e4f2e4', ec='none', z=29)
RED = '#f23645'
for s, c, lx in (('O', INK, 291), ('1.63', RED, 302), ('H', INK, 332), ('1.65', RED, 343), ('L', INK, 372), ('1.54', RED, 381),
                 ('C', INK, 410), ('1.56', RED, 420), ('\u22120.07 (\u22124.29%)', RED, 450)):
    t(lx, 58, s, 13, c, ha='left')
rbox(65, 78, 113, 107, 4, fc='white', ec='#f23645')
t(89, 97, 'SELL', 11.5, '#f23645')
t(89, 85, '1.55', 12, '#f23645', w='bold')
t(131, 90, '0.03', 10.5)
rbox(149, 78, 195, 107, 4, fc='white', ec='#2962ff')
t(172, 97, 'BUY', 11.5, '#2962ff')
t(172, 85, '1.58', 12, '#2962ff', w='bold')

def sync_icon(x, y):
    circ(x, y, 9, fc='#ece6fa', ec='none', z=26)
    fg.add_patch(Arc((x, y), 10, 10, theta1=200, theta2=340, ec='#7c3aed', lw=1.4, zorder=28))
    fg.add_patch(Arc((x, y), 10, 10, theta1=20, theta2=160, ec='#7c3aed', lw=1.4, zorder=28))
    fg.add_patch(Polygon([(x+3.5, y-1), (x+7.5, y-1), (x+5.5, y+2)], fc='#7c3aed', ec='none', zorder=28))
    fg.add_patch(Polygon([(x-3.5, y+1), (x-7.5, y+1), (x-5.5, y-2)], fc='#7c3aed', ec='none', zorder=28))
def dd(x0, y0, x1, y1, lab=None):
    rbox(x0, y0, x1, y1, 3, fc='white', ec='#e0e3eb')
    cx = x0 + 11 if lab else (x0+x1)/2
    ln([cx-4, cx, cx+4], [(y0+y1)/2-2, (y0+y1)/2+2, (y0+y1)/2-2])
    if lab:
        t(x0+29, (y0+y1)/2-1, lab, 12.5)
dd(65, 116, 105, 136, '12'); sync_icon(128, 126)
dd(65, 586, 94, 606); sync_icon(119, 596)
dd(65, 679, 94, 699); sync_icon(119, 689)
dd(65, 780, 94, 800); sync_icon(119, 791)
for yy in (596, 689):
    for x in (138, 145, 152):
        circ(x, yy, 1.6, fc='#c4c7ce', ec='none')

# drawing widget
rbox(540, 100, 642, 139, 7, fc='#ededed', z=24)
rbox(540, 100, 640, 137, 6, fc='white', z=25)
for x in (549, 554):
    for y in (113, 119, 125):
        circ(x, y, 1.1, fc='#c7c9cf', ec='none')
for x0, a_, b_ in ((573, '1', '5'), (611, 'A', 'C')):
    xs = [x0, x0+7, x0+14, x0+21]; ys = [127, 120, 127, 120]
    ln(xs, ys)
    for xx, yy in zip(xs, ys):
        circ(xx, yy, 2.2, fc='white')
    t(x0+7, 111, a_, 9.5, w='bold'); t(x0+21, 111, b_, 9.5, w='bold')

# MYR dropdowns
for y0 in (48, 584, 677):
    rbox(980, y0, 1027, y0+25, 4, fc='white', ec='#ececf0')
    t(995, y0+11, 'MYR', 12, '#3d4250')
    ln([1016, 1019, 1022], [y0+11, y0+14, y0+11])

# last-price tag
rbox(913, 176, 1013, 193, 2, fc='#00e676', z=26)
ln([977, 977], [176, 193], c='white', lw=1, z=27)
t(944, 184, 'LWSABAH', 12.5, '#0c1a12', z=30)
t(996, 184, '1.56', 12.5, '#0c1a12', z=30)

# earnings flags, anchored on bars through the pane's x scale
for b in earnings_bars:
    px = fg.transData.inverted().transform(ax.transData.transform((b, 1.0)))[0]
    rbox(px-9, 556, px+9, 574, 2, fc='white', ec='#8a8d94', lw=1.1, z=26)
    t(px, 564, 'E', 12, '#555', w='bold')
rbox(957, 556, 977, 575, 2, fc='#fdf0fd', ec='#e040fb', lw=1, z=26)
t(962, 565, '\u2248', 12, '#e040fb'); t(969, 564, 'E', 12.5, '#e040fb', w='bold')

# TradingView mark
tv = [[(68, 984), (84, 984), (84, 1000), (75, 1000), (75, 991), (68, 991)],
      [(91, 984), (99, 984), (92, 1000), (84, 1000)]]
for pts in tv:
    fg.add_patch(Polygon(pts, fc='black', ec='white', lw=1.2, zorder=26))
circ(87.5, 987, 2.5, fc='black', ec='white', lw=0.6, z=27)

# left toolbar
ln([17, 35], [113, 96]); circ(17, 113, 2, fc='white'); circ(35, 96, 2, fc='white')
for y in (133, 143, 153):
    ln([14, 38], [y, y])
circ(36, 143, 2.2, fc='white'); circ(17, 153, 2.2, fc='white')
ln([17, 22, 26, 31, 36], [191, 172, 181, 172, 188]); ln([22, 36], [172, 188]); ln([31, 17], [172, 191])
for xx, yy in ((17, 191), (22, 172), (31, 172), (36, 188), (26, 181)):
    circ(xx, yy, 2, fc='white')
for y in (212, 226):
    ln([16, 38], [y, y]); circ(17, y, 2, fc='white')
t(27, 218, 'L', 9)
ln([16, 24, 31, 25, 16], [267, 251, 253, 265, 267]); ln([31, 36, 40], [251, 248, 251])
ln([27, 27], [287, 304], lw=1.1); ln([18, 36], [287, 287], lw=1.1); ln([22, 32], [304, 304])
circ(26, 333, 10.5); circ(22, 331, 0.7, fc=INK); circ(30, 331, 0.7, fc=INK)
fg.add_patch(Arc((26, 334), 9, 7, theta1=20, theta2=160, ec=INK, lw=0.9, zorder=28))
ln([14, 38], [358, 358], c='#e6e6e6')
fg.add_patch(Polygon([(15, 390), (34, 374), (38, 379), (19, 395)], fc='none', ec=INK, lw=0.9, zorder=28))
for k in range(1, 6):
    ln([15+k*3.2, 17+k*3.2], [390-k*2.7, 393-k*2.7])
circ(25, 421, 7); ln([30, 35], [426, 431]); ln([22, 28], [421, 421]); ln([25, 25], [418, 424])
ln([14, 38], [448, 448], c='#e6e6e6')
fg.add_patch(Arc((26, 473), 18, 18, theta1=180, theta2=360, ec=INK, lw=0.9, zorder=28))
fg.add_patch(Arc((26, 473), 8, 8, theta1=180, theta2=360, ec=INK, lw=0.9, zorder=28))
ln([17, 17, 22, 22], [473, 482, 482, 473]); ln([30, 30, 35, 35], [473, 482, 482, 473]); ln([17, 22], [477, 477]); ln([30, 35], [477, 477])
fg.add_patch(Polygon([(16, 514), (29, 501), (33, 505), (20, 518), (15, 519)], fc='none', ec=INK, lw=0.9, zorder=28))
fg.add_patch(Rectangle((29, 514), 8, 7, fc='white', ec=INK, lw=0.9, zorder=28))
fg.add_patch(Arc((33, 513), 6, 7, theta1=180, theta2=330, ec=INK, lw=0.9, zorder=28))
fg.add_patch(Rectangle((18, 549), 16, 11, fc='white', ec=INK, lw=0.9, zorder=28))
fg.add_patch(Arc((26, 548), 9, 11, theta1=180, theta2=340, ec=INK, lw=0.9, zorder=28))
circ(26, 554, 1, fc=INK)
fg.add_patch(Arc((26, 593), 24, 22, theta1=205, theta2=335, ec=INK, lw=0.9, zorder=28))
fg.add_patch(Arc((26, 581), 24, 22, theta1=25, theta2=155, ec=INK, lw=0.9, zorder=28))
circ(26, 587, 4)
# chain link: two offset capsule outlines
for (xa, ya, xb, yb) in ((19, 633, 26, 626), (26, 626, 33, 619)):
    ln([xa, xb], [ya, yb], c='#3a3d45', lw=4.2, z=27)
    ln([xa, xb], [ya, yb], c='white', lw=2.6, z=27.5)
ln([24, 28], [628, 624], c='white', lw=3, z=27.6)
ln([14, 38], [648, 648], c='#e6e6e6')
ln([18, 34], [669, 669]); ln([20, 22, 30, 32, 20], [669, 685, 685, 669, 669]); ln([23, 29], [666, 666])
rbox(9, 1025, 43, 1059, 6, fc='#2e2e2e')
ang = np.pi/2 + np.arange(11)*np.pi/5
rad = np.where(np.arange(11) % 2 == 0, 10, 4.2)
fg.plot(26+rad*np.cos(ang), 1042-rad*np.sin(ang), color='white', lw=0.9, zorder=28)

# right toolbar
RX = 1058
ln([1049, 1067, 1067, 1058, 1049, 1049], [56, 56, 78, 72, 78, 56])
for y in (61, 65, 69):
    ln([1052, 1064], [y, y])
circ(RX, 112, 9.5); ln([RX, RX, RX-3], [106, 113, 113]); ln([1047, 1051], [106, 102]); ln([1069, 1065], [106, 102])
fg.add_patch(Polygon([(RX, 150), (1070, 157), (RX, 164), (1046, 157)], fc='white', ec=INK, lw=0.9, zorder=28))
ln([1046, RX, 1070], [163, 170, 163])
fg.add_patch(Rectangle((1047, 194), 23, 18, fc='white', ec=INK, lw=1, zorder=27))
ln([1047, 1047, 1054], [212, 218, 212]); ln([1070, 1070, 1063], [212, 218, 212])
circ(1068, 192, 8, fc='#f23645', ec='none', z=29); t(1068, 191, '1', 10.5, 'white')
circ(RX, 773, 13.5); circ(RX, 773, 9); circ(RX, 773, 2, fc=INK); ln([RX, 1066], [773, 765])
fg.add_patch(Polygon([(RX, 806), (1068, 816), (RX, 822), (1048, 816)], fc='white', ec=INK, lw=0.9, zorder=27))
ln([1046, 1054, RX, 1062, 1070, 1046], [828, 819, 822, 819, 828, 828])
rbox(1046, 850, 1070, 871, 2, fc='white', ec=INK, lw=1, z=27)
ln([1046, 1070], [856, 856]); ln([1051, 1051], [848, 853], lw=1.5); ln([1065, 1065], [848, 853], lw=1.5)
circ(1049, 916, 1.7)
for r in (7, 12, 18):
    fg.add_patch(Arc((1049, 916), 2*r, 2*r, theta1=270, theta2=360, ec=INK, lw=0.9, zorder=27))
rbox(1047, 889, 1076, 904, 7, fc='#f23645', z=29); t(1061, 895, '99+', 11, 'white')
fg.add_patch(Arc((1058, 951), 20, 22, theta1=180, theta2=360, ec=INK, lw=0.9, zorder=27))
ln([1048, 1048, 1044, 1072, 1068, 1068], [951, 958, 962, 962, 958, 951])
fg.add_patch(Arc((1058, 963), 7, 7, theta1=0, theta2=180, ec=INK, lw=0.9, zorder=27))
circ(1065, 942, 10, fc='#f23645', ec='none', z=29); t(1065, 941, '59', 11, 'white')
circ(RX, 998, 17, fc='#2e2e2e', ec='none', z=26)
for dx in (-7, 0, 7):
    for dy in (-7, 0, 7):
        fg.add_patch(Rectangle((RX+dx-2, 998+dy-2), 4.4, 4.4, fc='white', ec='none', zorder=28))
ln([1041, 1075], [1027, 1027], c='#e6e6e6')
circ(RX, 1055, 13.5); t(RX, 1054, '?', 17)

# bottom bar
for x, s in ((79, '1D'), (109, '5D'), (140, '1M'), (172, '3M'), (204, '6M'), (239, 'YTD'), (272, '1Y'), (300, 'All')):
    t(x, 1060, s, 13.5, '#2f3340')
ln([320, 320], [1052, 1072], c='#e0e3eb')
ln([338, 334, 334, 352, 352, 342], [1069, 1069, 1054, 1054, 1071, 1071])
ln([334, 352], [1058, 1058]); ln([338, 338], [1052, 1056]); ln([348, 348], [1052, 1056])
ln([334, 344], [1067, 1067]); ln([341, 344, 341], [1064, 1067, 1070])
t(974, 1060, '23:01:07 UTC+8', 13.5, '#2f3340', ha='right')
ln([985, 985], [1052, 1072], c='#e0e3eb')
t(1008, 1060, 'ADJ', 13.5, '#2f3340')
hexa = [(1004+8*np.cos(a_), 1028+8*np.sin(a_)) for a_ in np.linspace(0, 2*np.pi, 7)[:-1]]
fg.add_patch(Polygon(hexa, fc='white', ec='#444', lw=0.9, zorder=27)); circ(1004, 1028, 2.5, ec='#444')

fig.savefig('out.png', dpi=100)
